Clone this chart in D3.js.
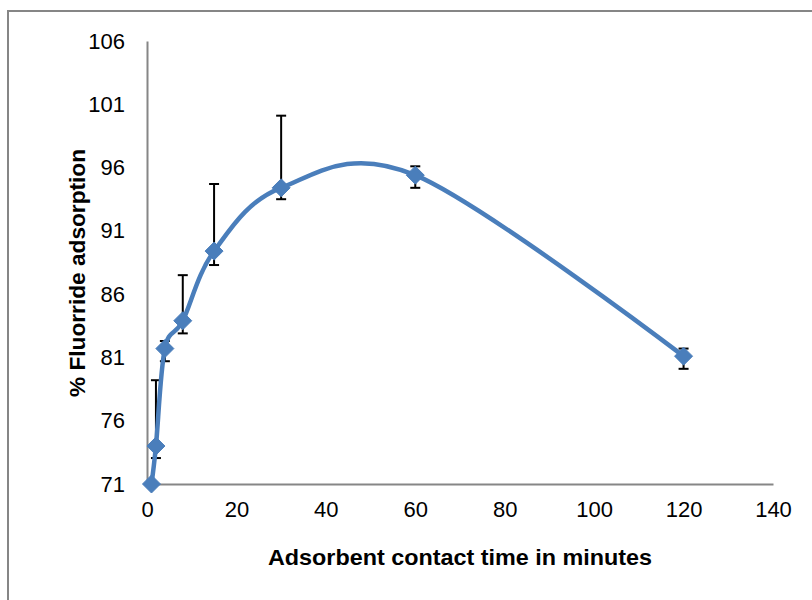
<!DOCTYPE html>
<html>
<head>
<meta charset="utf-8">
<script src="https://cdn.jsdelivr.net/npm/d3@7"></script>
<style>
  html, body { margin: 0; padding: 0; background: #fff; }
  svg { display: block; }
</style>
</head>
<body>
<svg id="chart" width="812" height="600"></svg>
<script>
// Contact time (min) and mean % fluoride adsorption
const times = [1, 2, 4, 8, 15, 30, 60, 120];
const adsorption = [71, 74, 81.7, 83.9, 89.4, 94.4, 95.4, 81.1];
// Error bar extents above / below the mean
const errPlus = [0, 5.2, 0.6, 3.6, 5.3, 5.7, 0.7, 0.6];
const errMinus = [0, 0.95, 1.0, 1.0, 1.1, 0.9, 1.0, 1.0];
// Axis ticks
const xTicks = [0, 20, 40, 60, 80, 100, 120, 140];
const yTicks = [71, 76, 81, 86, 91, 96, 101, 106];

const points = times.map((t, i) => ({
  t, v: adsorption[i], hi: adsorption[i] + errPlus[i], lo: adsorption[i] - errMinus[i]
}));

const svg = d3.select("#chart");
const axisColor = "#868686";
const lineColor = "#4a7ebb";
const font = "'Liberation Sans', Arial, sans-serif";

// Chart-area frame
svg.append("rect")
  .attr("x", 8).attr("y", 11)
  .attr("width", 830).attr("height", 620)
  .attr("fill", "none")
  .attr("stroke", axisColor)
  .attr("stroke-width", 2);

const x = d3.scaleLinear().domain([0, 140]).range([147, 773]);
const y = d3.scaleLinear().domain([71, 106]).range([484, 41]);

// Axes (lines only, no tick marks)
const xAxis = svg.append("g")
  .attr("transform", `translate(0,${y(71)})`)
  .call(d3.axisBottom(x).tickValues(xTicks).tickSize(0).tickPadding(17));
const yAxis = svg.append("g")
  .attr("transform", `translate(${x(0)},0)`)
  .call(d3.axisLeft(y).tickValues(yTicks).tickSize(0).tickPadding(22));

[xAxis, yAxis].forEach(g => {
  g.select(".domain").attr("stroke", axisColor).attr("stroke-width", 2);
  g.selectAll("text")
    .attr("font-family", font)
    .attr("font-size", 22)
    .attr("fill", "#000");
});

// Error bars
const cap = 5;
const eb = svg.append("g").attr("stroke", "#000").attr("stroke-width", 2);
points.filter(d => d.hi > d.v || d.lo < d.v).forEach(d => {
  const cx = x(d.t);
  eb.append("line").attr("x1", cx).attr("x2", cx).attr("y1", y(d.hi)).attr("y2", y(d.lo));
  eb.append("line").attr("x1", cx - cap).attr("x2", cx + cap).attr("y1", y(d.hi)).attr("y2", y(d.hi));
  eb.append("line").attr("x1", cx - cap).attr("x2", cx + cap).attr("y1", y(d.lo)).attr("y2", y(d.lo));
});

// Smoothed series line
const line = d3.line()
  .x(d => x(d.t))
  .y(d => y(d.v))
  .curve(d3.curveCardinal.tension(0));
svg.append("path")
  .datum(points)
  .attr("d", line)
  .attr("fill", "none")
  .attr("stroke", lineColor)
  .attr("stroke-width", 4.5)
  .attr("stroke-linejoin", "round")
  .attr("stroke-linecap", "round");

// Diamond markers
const r = 9;
svg.append("g").selectAll("path")
  .data(points)
  .join("path")
  .attr("transform", d => `translate(${x(d.t)},${y(d.v)})`)
  .attr("d", `M0,${-r}L${r},0L0,${r}L${-r},0Z`)
  .attr("fill", lineColor)
  .attr("stroke", lineColor)
  .attr("stroke-width", 1);

// Axis titles
svg.append("text")
  .attr("x", 460).attr("y", 565)
  .attr("text-anchor", "middle")
  .attr("font-family", font)
  .attr("font-weight", "bold")
  .attr("font-size", 22)
  .attr("textLength", 384)
  .attr("lengthAdjust", "spacingAndGlyphs")
  .text("Adsorbent contact time in minutes");

svg.append("text")
  .attr("transform", "translate(85,273) rotate(-90)")
  .attr("text-anchor", "middle")
  .attr("font-family", font)
  .attr("font-weight", "bold")
  .attr("font-size", 22)
  .attr("textLength", 248)
  .attr("lengthAdjust", "spacingAndGlyphs")
  .text("% Fluorride adsorption");
</script>
</body>
</html>
